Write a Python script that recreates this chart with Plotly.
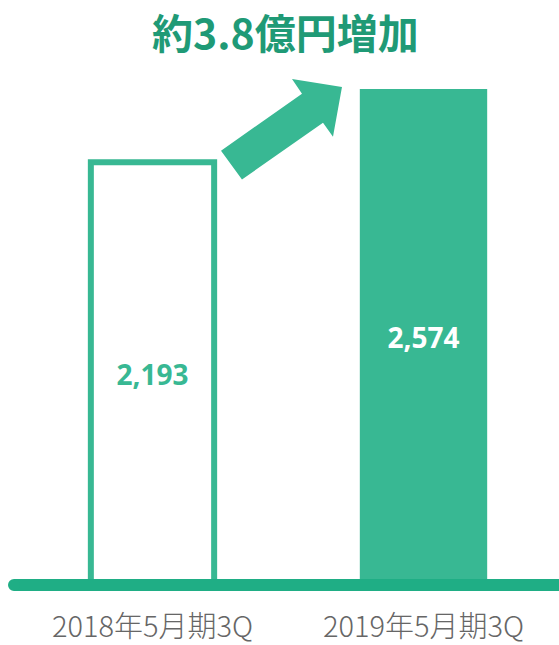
import plotly.graph_objects as go

categories = ["2018年5月期3Q", "2019年5月期3Q"]
values = [2193, 2574]
value_labels = ["2,193", "2,574"]
title_text = "約3.8億円増加"

GREEN = "#38b893"
LINE_GREEN = "#1fae85"
TITLE_GREEN = "#1f9a76"

W, H = 559, 645
ml, mr, mt, mb = 17, 0, 60, 58
plot_w = W - ml - mr
plot_h = H - mt - mb
ymax = plot_h / (498 / 2574)

fig = go.Figure()
fig.add_trace(go.Bar(
    x=[0, 1], y=values,
    width=[0.455, 0.47],
    marker=dict(color=["white", GREEN], line=dict(color=[GREEN, GREEN], width=[6, 0])),
    text=value_labels,
    textposition="inside",
    insidetextanchor="middle",
    textangle=0,
    textfont=dict(color=[GREEN, "white"], size=28, family="Noto Sans, Noto Sans CJK JP", weight="bold"),
    hoverinfo="skip",
))

# baseline (paper coords so it is not clipped)
fig.add_shape(type="rect", xref="paper", yref="paper",
              x0=-3 / plot_w, x1=1.05, y0=-6 / plot_h, y1=6 / plot_h,
              fillcolor=LINE_GREEN, line=dict(width=0), layer="above")
fig.add_shape(type="circle", xref="paper", yref="paper",
              x0=-9 / plot_w, x1=3 / plot_w, y0=-6 / plot_h, y1=6 / plot_h,
              fillcolor=LINE_GREEN, line=dict(width=0), layer="above")

# arrow (pixel positions converted to paper coords)
def px(x, y):
    return ((x - ml) / plot_w, (H - mb - y) / plot_h)

pts = [(221, 151), (302, 94), (292, 79), (342, 87), (333, 137), (323, 123), (242, 180)]
path = "M " + " L ".join(f"{px(x, y)[0]:.4f},{px(x, y)[1]:.4f}" for x, y in pts) + " Z"
fig.add_shape(type="path", xref="paper", yref="paper", path=path,
              fillcolor=GREEN, line=dict(width=0))

fig.add_annotation(text=f"<b>{title_text}</b>", xref="paper", yref="paper",
                   x=(285 - ml) / plot_w, y=(H - mb - 31) / plot_h,
                   xanchor="center", yanchor="middle", showarrow=False,
                   font=dict(size=41, color=TITLE_GREEN, family="Noto Sans CJK JP"))

fig.update_layout(
    width=W, height=H,
    margin=dict(l=ml, r=mr, t=mt, b=mb),
    plot_bgcolor="white", paper_bgcolor="white",
    showlegend=False,
    xaxis=dict(range=[-0.5, 1.5], tickvals=[0, 1], ticktext=categories,
               showgrid=False, zeroline=False, showline=False,
               ticks="outside", ticklen=16, tickcolor="rgba(0,0,0,0)",
               tickfont=dict(size=29, color="#666666", family="Noto Sans CJK JP", weight=300)),
    yaxis=dict(range=[0, ymax], visible=False, showgrid=False, zeroline=False),
    uniformtext=dict(mode=False),
)

fig.write_html("out.html")
